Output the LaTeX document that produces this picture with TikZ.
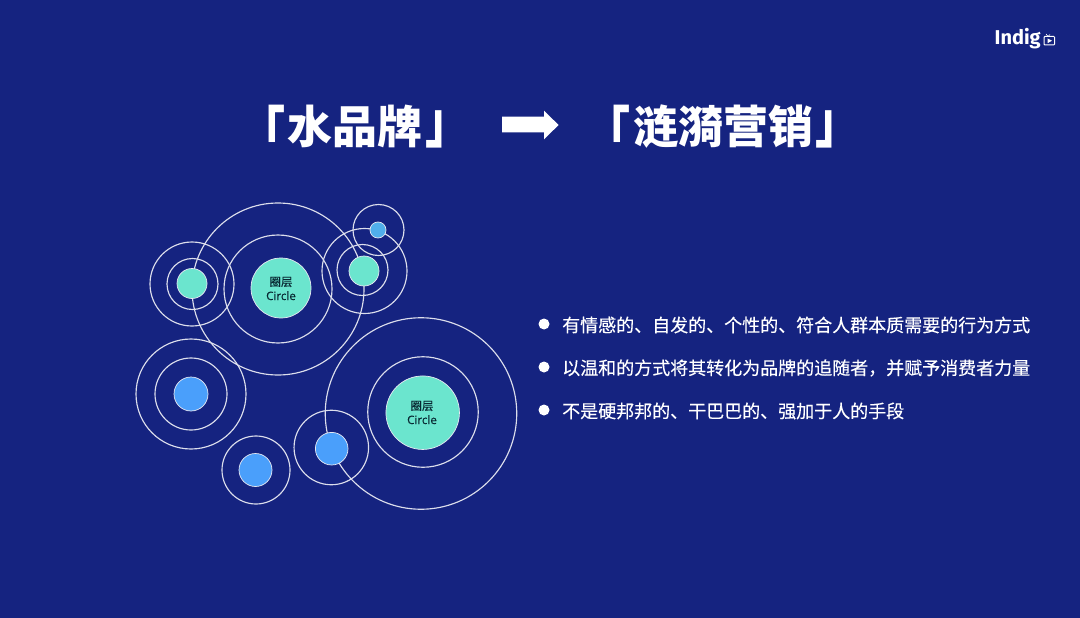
\documentclass[tikz,border=0pt]{standalone}
\usepackage{fontspec}
\newfontfamily\cjk{Noto Sans CJK SC}
\newfontfamily\cjkm[FakeBold=0.25]{Noto Sans CJK SC}
\newfontfamily\latin[FakeBold=0.2]{Open Sans}
\newfontfamily\logo{Fira Sans}
\definecolor{bg}{RGB}{21,35,128}
\definecolor{teal}{RGB}{107,229,206}
\definecolor{blu}{RGB}{74,159,251}
\definecolor{sky}{RGB}{80,175,235}
\definecolor{ink}{RGB}{8,40,50}
\newcommand{\lbr}{\raisebox{-.277em}{\scalebox{1}[1.31]{「}}\kern2.5pt}
\newcommand{\rbr}{\kern2.5pt\raisebox{.025em}{\scalebox{1}[1.31]{」}}}
\tikzset{
  ring/.style={circle,draw=white!85!bg,line width=1.15pt,inner sep=0pt,outer sep=0pt,minimum size=#1},
  disc/.style={circle,draw=white!90!bg,line width=.7pt,inner sep=0pt,outer sep=0pt,minimum size=#1},
  titletext/.style={text=white,inner sep=0pt,font=\cjk\bfseries\fontsize{45}{50}\selectfont,anchor=base},
  bodytext/.style={text=white,inner sep=0pt,font=\cjkm\fontsize{18}{22}\selectfont,anchor=west},
  dot/.style={circle,fill=white,inner sep=0pt,minimum size=11pt},
  labeltext/.style={text=ink,inner sep=0pt,align=center,font=\fontsize{11.5}{15}\selectfont}
}
\begin{document}
\begin{tikzpicture}[x=1pt,y=-1pt]
\useasboundingbox (0,0) rectangle (1080,618);
\fill[bg] (0,0) rectangle (1080,618);
% rings
\node[ring=172pt] (a1) at (278,289) {};
\node[ring=108pt] (a2) at (278,289) {};
\node[ring=84pt] (b1) at (192,284) {};
\node[ring=51pt] (b2) at (192.5,284) {};
\node[ring=85pt] (c1) at (364.5,271) {};
\node[ring=51pt] (c2) at (362.5,270) {};
\node[ring=51pt] (d1) at (378.5,230) {};
\node[ring=110pt] (e1) at (191,394) {};
\node[ring=72pt] (e2) at (191,394) {};
\node[ring=68pt] (f1) at (256,470) {};
\node[ring=74.5pt] (g1) at (331.3,447.5) {};
\node[ring=191.5pt] (h1) at (421,413.5) {};
\node[ring=110.5pt] (h2) at (423,412) {};
% discs
\node[disc=60pt,fill=teal] (a3) at (281,288) {};
\node[disc=30pt,fill=teal] (b3) at (192,283.5) {};
\node[disc=30pt,fill=teal] (c3) at (364,271) {};
\node[disc=16pt,fill=sky] (d3) at (378,230) {};
\node[disc=34pt,fill=blu] (e3) at (191,394) {};
\node[disc=33pt,fill=blu] (f3) at (255.5,470) {};
\node[disc=32.6pt,fill=blu] (g3) at (331.7,448.7) {};
\node[disc=73.5pt,fill=teal] (h3) at (422.7,412.7) {};
% disc labels
\node[labeltext] (a4) at (281,288.5) {{\cjkm 圈层}\\[-1pt]{\latin\fontsize{11.6}{13}\selectfont Circle}};
\node[labeltext] (h4) at (422,412.5) {{\cjkm 圈层}\\[-1pt]{\latin\fontsize{11.6}{13}\selectfont Circle}};
% title
\node[titletext] (t1) at (355,143.5) {\lbr 水品牌\rbr};
\node[titletext] (t2) at (723,143.5) {\lbr 涟漪营销\rbr};
\fill[white] (502,116.7) -- (544,116.7) -- (544,110.7) -- (558.6,125) -- (544,139.3) -- (544,132.3) -- (502,132.3) -- cycle;
% bullets
\node[dot] (p1) at (544,324) {};
\node[dot] (p2) at (544,367) {};
\node[dot] (p3) at (544,410) {};
\node[bodytext] (l1) at (562,325) {有情感的、自发的、个性的、符合人群本质需要的行为方式};
\node[bodytext] (l2) at (562,368) {以温和的方式将其转化为品牌的追随者，并赋予消费者力量};
\node[bodytext] (l3) at (562,411) {不是硬邦邦的、干巴巴的、强加于人的手段};
% logo
\node[text=white,inner sep=0pt,anchor=base west,font=\logo\bfseries\fontsize{20}{22}\selectfont] (logo) at (994.5,45) {Indig};
\draw[white,line width=1pt,rounded corners=.8pt] (1044,36.5) rectangle (1054.5,45);
\fill[white] (1047.5,38.4) -- (1052,40.7) -- (1047.5,43.2) -- cycle;
\draw[white,line width=.6pt] (1046,34) -- (1048,36.5) -- (1050,34.5);
\end{tikzpicture}
\end{document}
